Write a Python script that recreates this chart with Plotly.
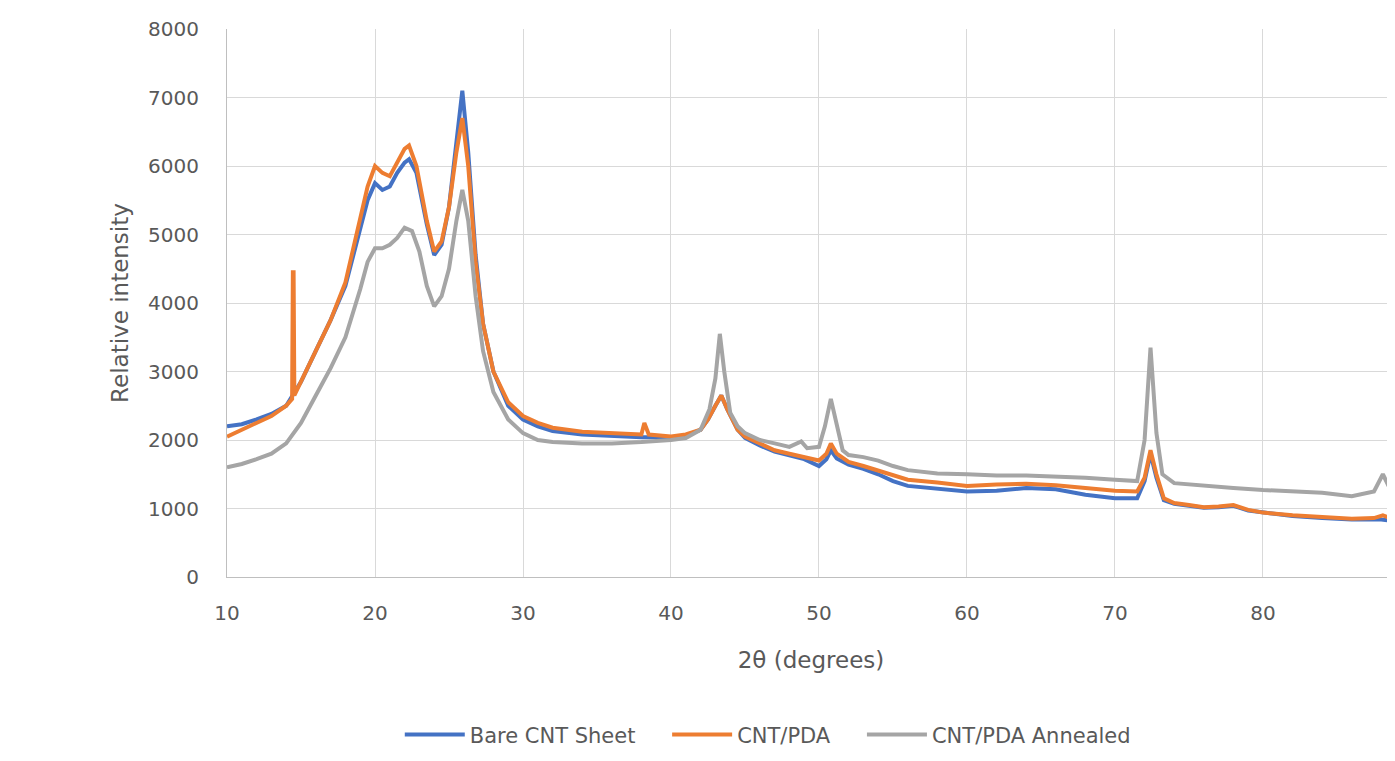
import plotly.graph_objects as go

# 2-theta positions (degrees) and intensities
x_bare = [10, 11, 12, 13, 14, 15, 16, 17, 18, 19, 19.5, 20, 20.5, 21, 21.5, 22, 22.3, 22.8, 23.5, 24, 24.5, 25, 25.5, 25.9,
          26.3, 26.8, 27.3, 28, 29, 30, 31, 32, 34, 36, 38, 40, 41, 42, 42.5, 43, 43.4, 43.8, 44.5, 45, 46, 47, 48, 49, 50,
          50.5, 50.8, 51.2, 52, 53, 54, 55, 56, 58, 60, 62, 64, 66, 68, 70, 71.5, 72, 72.4, 72.8, 73.3, 74, 75, 76, 77, 78,
          79, 80, 82, 84, 86, 88, 88.9]
y_bare = [2200, 2230, 2300, 2380, 2500, 2850, 3300, 3750, 4250, 5050, 5500, 5750, 5650, 5700, 5900, 6050, 6100, 5900, 5150,
          4700, 4850, 5400, 6300, 7100, 6200, 4700, 3700, 3000, 2500, 2300, 2200, 2130, 2080, 2060, 2040, 2040, 2060, 2150,
          2300, 2500, 2650, 2450, 2150, 2030, 1920, 1830, 1780, 1720, 1620, 1720, 1850, 1730, 1640, 1580, 1500, 1400, 1330,
          1290, 1250, 1260, 1300, 1280, 1200, 1150, 1150, 1400, 1800, 1450, 1120, 1070, 1040, 1010, 1020, 1040, 970, 940,
          890, 860, 840, 840, 810]

x_pda = [10, 11, 12, 13, 14, 14.4, 14.45, 14.5, 14.55, 15, 16, 17, 18, 19, 19.5, 20, 20.5, 21, 21.5, 22, 22.3, 22.8, 23.5,
         24, 24.5, 25, 25.5, 25.9, 26.3, 26.8, 27.3, 28, 29, 30, 31, 32, 34, 36, 38, 38.2, 38.5, 40, 41, 42, 42.5, 43,
         43.4, 43.8, 44.5, 45, 46, 47, 48, 49, 50, 50.5, 50.8, 51.2, 52, 53, 54, 55, 56, 58, 60, 62, 64, 66, 68, 70, 71.5,
         72, 72.4, 72.8, 73.3, 74, 75, 76, 77, 78, 79, 80, 82, 84, 86, 87.5, 88.1, 88.6, 88.9]
y_pda = [2050, 2150, 2250, 2350, 2500, 2600, 4450, 4450, 2650, 2850, 3300, 3750, 4300, 5200, 5700, 6000, 5900, 5850, 6050,
         6250, 6300, 6000, 5200, 4750, 4900, 5400, 6200, 6700, 6000, 4600, 3700, 3000, 2550, 2350, 2250, 2180, 2120, 2100,
         2080, 2250, 2080, 2050, 2080, 2150, 2300, 2500, 2650, 2450, 2150, 2050, 1950, 1850, 1800, 1750, 1700, 1800, 1950,
         1800, 1680, 1620, 1550, 1480, 1420, 1380, 1330, 1350, 1360, 1340, 1300, 1260, 1250, 1450, 1850, 1500, 1150, 1080,
         1050, 1020, 1030, 1050, 980, 940, 900, 870, 850, 860, 900, 860, 830]

x_ann = [10, 11, 12, 13, 14, 15, 16, 17, 18, 19, 19.5, 20, 20.5, 21, 21.5, 22, 22.5, 23, 23.5, 24, 24.5, 25, 25.5, 25.9,
         26.3, 26.8, 27.3, 28, 29, 30, 31, 32, 34, 36, 38, 40, 41, 42, 42.6, 43, 43.3, 43.6, 44, 44.5, 45, 46, 47, 48,
         48.8, 49.2, 50, 50.4, 50.8, 51.2, 51.6, 52, 53, 54, 55, 56, 58, 60, 62, 64, 66, 68, 70, 71.5, 72, 72.4, 72.8,
         73.2, 74, 76, 78, 80, 82, 84, 86, 87.5, 88.1, 88.6, 88.9]
y_ann = [1600, 1650, 1720, 1800, 1950, 2250, 2650, 3050, 3500, 4200, 4600, 4800, 4800, 4850, 4950, 5100, 5050, 4750, 4250,
         3950, 4100, 4500, 5200, 5650, 5200, 4100, 3300, 2700, 2300, 2100, 2000, 1970, 1950, 1950, 1970, 2000, 2030, 2150,
         2450, 2900, 3550, 3000, 2400, 2200, 2100, 2000, 1950, 1900, 1980, 1880, 1900, 2200, 2600, 2200, 1850, 1780, 1750,
         1700, 1620, 1560, 1510, 1500, 1480, 1480, 1470, 1450, 1420, 1400, 2000, 3350, 2100, 1500, 1370, 1330, 1300, 1270,
         1250, 1230, 1180, 1250, 1500, 1300, 1150]

series_names = ["Bare CNT Sheet", "CNT/PDA", "CNT/PDA Annealed"]
series = [
    (series_names[0], x_bare, y_bare, "#4472C4"),
    (series_names[1], x_pda, y_pda, "#ED7D31"),
    (series_names[2], x_ann, y_ann, "#A5A5A5"),
]

PAD = "\u00a0" * 4
fig = go.Figure()
for i, (name, xs, ys, col) in enumerate(series):
    label = name + (PAD if i < len(series) - 1 else "")
    fig.add_trace(go.Scatter(x=xs, y=ys, mode="lines", name=label,
                             line=dict(color=col, width=4)))

FAM = "DejaVu Sans, Open Sans, sans-serif"
tick_font = dict(family=FAM, size=20, color="#595959")
title_font = dict(family=FAM, size=23, color="#595959")
legend_font = dict(family=FAM, size=21, color="#595959")
fig.update_layout(
    width=1387, height=753,
    margin=dict(l=219, r=0, t=21, b=184),
    paper_bgcolor="white", plot_bgcolor="white",
    font=tick_font,
    showlegend=True,
    legend=dict(orientation="h", x=0.463, xanchor="center", y=-0.288, yanchor="middle",
                font=legend_font, itemwidth=60, tracegroupgap=0),
)
fig.update_xaxes(range=[10, 88.92], tickvals=[10, 20, 30, 40, 50, 60, 70, 80],
                 tickfont=tick_font,
                 showgrid=True, gridcolor="#d9d9d9", gridwidth=1,
                 showline=True, linecolor="#bfbfbf", linewidth=1,
                 zeroline=False, ticks="", ticklabelstandoff=18,
                 title=dict(text="2θ (degrees)", standoff=27, font=title_font))
fig.update_yaxes(range=[0, 8000], tickvals=list(range(0, 8001, 1000)),
                 tickfont=tick_font,
                 showgrid=True, gridcolor="#d9d9d9", gridwidth=1,
                 showline=True, linecolor="#bfbfbf", linewidth=1,
                 zeroline=False, ticks="", ticklabelstandoff=23,
                 title=dict(text="Relative intensity", standoff=13, font=title_font))

fig.write_html("out.html")
